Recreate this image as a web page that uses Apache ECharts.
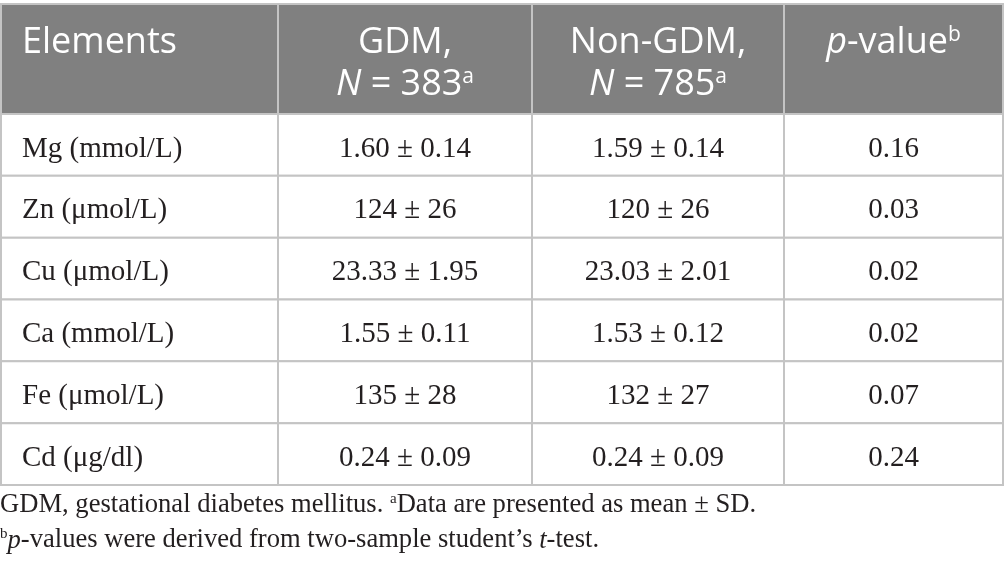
<!DOCTYPE html>
<html><head><meta charset="utf-8">
<script src="https://cdn.jsdelivr.net/npm/echarts@6/dist/echarts.min.js"></script>
<style>html,body{margin:0;padding:0;background:#fff}#c{width:1005px;height:575px}</style>
</head><body><div id="c"></div>
<script>
// ---- data ----
const elements = ['Mg (mmol/L)', 'Zn (\u03bcmol/L)', 'Cu (\u03bcmol/L)', 'Ca (mmol/L)', 'Fe (\u03bcmol/L)', 'Cd (\u03bcg/dl)'];
const gdmMean = [1.60, 124, 23.33, 1.55, 135, 0.24];
const gdmSD = [0.14, 26, 1.95, 0.11, 28, 0.09];
const nonGdmMean = [1.59, 120, 23.03, 1.53, 132, 0.24];
const nonGdmSD = [0.14, 26, 2.01, 0.12, 27, 0.09];
const pValues = [0.16, 0.03, 0.02, 0.02, 0.07, 0.24];
const decimals = [2, 0, 2, 2, 0, 2];
const headers = ['Elements', 'GDM,\n{i|N} = 383{sup|a}', 'Non-GDM,\n{i|N} = 785{sup|a}', '{i|p}-value{sup|b}'];
const footnote1 = 'GDM, gestational diabetes mellitus. {sup|a}Data are presented as mean \u00b1 SD.';
const footnote2 = '{sup|b}{i|p}-values were derived from two-sample student\u2019s {i|t}-test.';

// ---- layout ----
const colEdges = [0, 277, 531, 783, 1002];
const headerUnits = 1.78;
const SERIF = '"Liberation Serif", "DejaVu Serif", serif';
const SANS = '"Open Sans", "Noto Sans", sans-serif';
const INK = '#231f20';

const cells = [];
headers.forEach((h, c) => cells.push({ value: [c, -1], text: h }));
elements.forEach((e, r) => {
  const d = decimals[r];
  cells.push({ value: [0, r], text: e });
  cells.push({ value: [1, r], text: gdmMean[r].toFixed(d) + ' \u00b1 ' + gdmSD[r].toFixed(d) });
  cells.push({ value: [2, r], text: nonGdmMean[r].toFixed(d) + ' \u00b1 ' + nonGdmSD[r].toFixed(d) });
  cells.push({ value: [3, r], text: pValues[r].toFixed(2) });
});

const chart = echarts.init(document.getElementById('c'));
chart.setOption({
  animation: false,
  grid: { left: 1, right: 2, top: 4, bottom: 90 },
  xAxis: { type: 'value', min: 0, max: colEdges[colEdges.length - 1], show: false },
  yAxis: { type: 'value', min: 0, max: headerUnits + elements.length, inverse: true, show: false },
  graphic: [{
    type: 'text', left: 0, top: 488, silent: true,
    style: {
      text: footnote1 + '\n' + footnote2,
      font: '26.6px ' + SERIF, fill: INK, lineHeight: 35,
      rich: {
        sup: { fontSize: 15, fontFamily: SERIF, verticalAlign: 'top', lineHeight: 35, fill: INK, padding: [4, 0, 0, 0] },
        i: { fontStyle: 'italic', fontSize: 26.6, fontFamily: SERIF, fill: INK }
      }
    }
  }],
  series: [{
    type: 'custom',
    coordinateSystem: 'cartesian2d',
    silent: true,
    data: cells,
    renderItem: function (params, api) {
      const c = api.value(0), r = api.value(1);
      const cell = cells[params.dataIndex];
      const isHead = r < 0;
      const y0 = isHead ? 0 : headerUnits + r;
      const y1 = isHead ? headerUnits : headerUnits + r + 1;
      const p0 = api.coord([colEdges[c], y0]);
      const p1 = api.coord([colEdges[c + 1], y1]);
      const w = p1[0] - p0[0], h = p1[1] - p0[1];
      const tx = c === 0 ? p0[0] + 21 : p0[0] + w / 2;
      const children = [{
        type: 'rect',
        shape: { x: p0[0], y: p0[1], width: w, height: h },
        style: { fill: isHead ? '#808080' : '#ffffff', stroke: '#c4c4c4', lineWidth: 2 }
      }];
      if (isHead) {
        children.push({
          type: 'text',
          style: {
            text: cell.text, x: tx, y: p0[1] + 18,
            align: c === 0 ? 'left' : 'center', verticalAlign: 'top',
            font: '36px ' + SANS, fill: '#ffffff', lineHeight: 42,
            rich: {
              i: { fontStyle: 'italic', fontSize: 36, fontFamily: SANS, fill: '#ffffff', lineHeight: 42 },
              sup: { fontSize: 21, fontFamily: SANS, fill: '#ffffff', verticalAlign: 'top', lineHeight: 42, padding: [3, 0, 0, 0] }
            }
          }
        });
      } else {
        children.push({
          type: 'text',
          style: {
            text: cell.text, x: tx, y: p0[1] + h / 2 + 4,
            align: c === 0 ? 'left' : 'center', verticalAlign: 'middle',
            font: '29px ' + SERIF, fill: INK
          }
        });
      }
      return { type: 'group', children: children };
    }
  }]
});
</script>
</body></html>
